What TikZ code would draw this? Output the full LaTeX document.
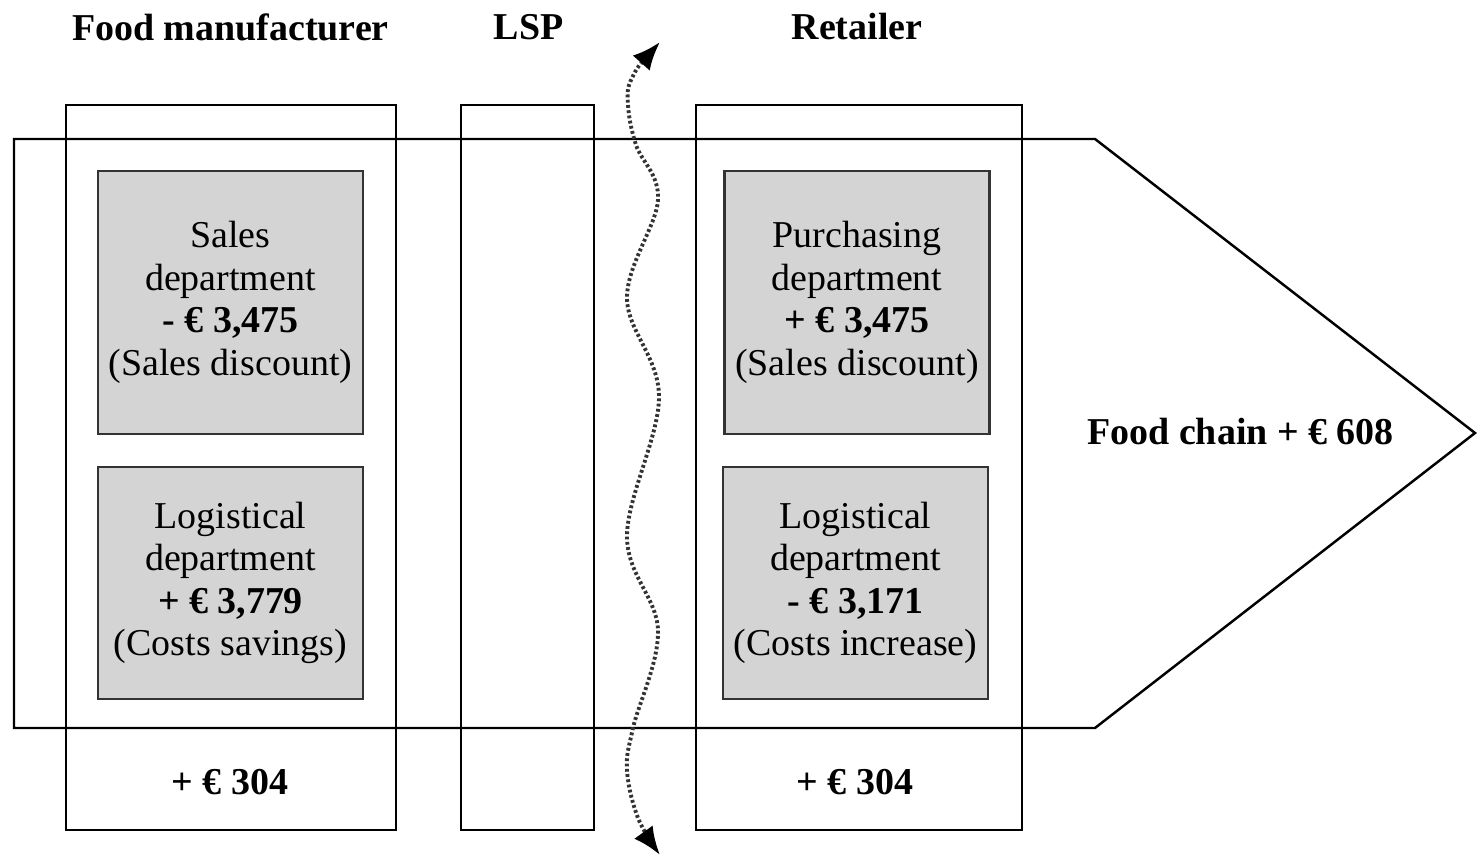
\documentclass[tikz,border=0pt]{standalone}
\usepackage{fontspec}
\setmainfont{Liberation Serif}
\usetikzlibrary{arrows.meta,positioning}

\begin{document}
\begin{tikzpicture}[font=\fontsize{10.8}{12.1}\selectfont,>={Latex[length=8pt,width=6.5pt,color=black]},
  col/.style={draw,line width=0.7pt,minimum height=7.25cm,inner sep=0pt},
  dept/.style={draw=black!80,line width=0.8pt,fill=black!17,minimum width=2.65cm,align=center,inner sep=0pt},
  head/.style={font=\fontsize{10.8}{12.1}\selectfont\bfseries},
  wave/.style={line width=1.1pt,black!80,dash pattern=on 0.8pt off 0.7pt}]
\useasboundingbox (0,0) rectangle (14.77,8.60);
\draw[line width=0.7pt] (0.14,7.21) -- (10.95,7.21) -- (14.75,4.27) -- (10.95,1.32) -- (0.14,1.32) -- cycle;
\node[col,minimum width=3.30cm] (fm) at (2.31,3.925) {};
\node[col,minimum width=1.33cm] (lsp) at (5.275,3.925) {};
\node[col,minimum width=3.26cm] (ret) at (8.59,3.925) {};
\node[head] (fmhead) at (2.305,8.33) {Food manufacturer};
\node[head] (lsphead) at (5.285,8.33) {LSP};
\node[head] (rethead) at (8.57,8.33) {Retailer};
\node[dept,minimum height=2.63cm] (sales) at (2.305,5.575) {Sales\\department\\\textbf{- € 3,475}\\(Sales discount)};
\node[dept,minimum height=2.32cm] (fmlog) at (2.305,2.77) {Logistical\\department\\\textbf{+ € 3,779}\\(Costs savings)};
\node[dept,minimum height=2.63cm] (purch) at (8.57,5.575) {Purchasing\\department\\\textbf{+ € 3,475}\\(Sales discount)};
\node[dept,minimum height=2.32cm] (retlog) at (8.555,2.77) {Logistical\\department\\\textbf{- € 3,171}\\(Costs increase)};
\node[head] (fmsum) at (2.30,0.78) {+ € 304};
\node[head] (retsum) at (8.55,0.78) {+ € 304};
\node[head] (chain) at (12.405,4.28) {Food chain + € 608};
\coordinate (up) at (6.60,8.18);
\coordinate (down) at (6.60,0.05);
\draw[wave,<->] plot[smooth,tension=0.6] coordinates {(up) (6.32,7.82) (6.28,7.55) (6.36,7.15) (6.58,6.60) (6.27,5.62) (6.59,4.63) (6.27,3.24) (6.58,2.30) (6.33,1.32) (6.27,0.90) (6.38,0.42) (down)};
\end{tikzpicture}
\end{document}
